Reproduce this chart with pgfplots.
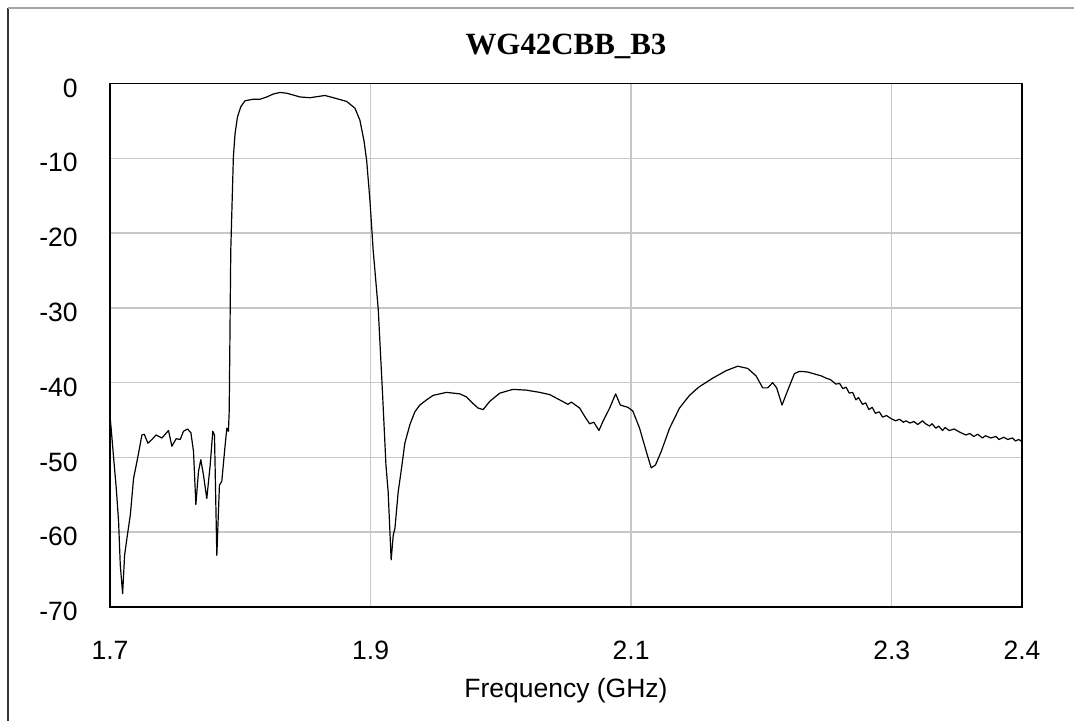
\documentclass[border=0pt]{standalone}
\usepackage{fontspec}
\setmainfont{Liberation Sans}
\newfontfamily\titlefont{Liberation Serif}
\usepackage{pgfplots}
\pgfplotsset{compat=1.18}

\pgfplotstableread{
f      db
1.7000 -44.3
1.7028 -50.1
1.7048 -54.1
1.7066 -58.6
1.7079 -64.4
1.7097 -68.2
1.7112 -63.1
1.7130 -60.8
1.7156 -57.7
1.7181 -52.8
1.7212 -50.1
1.7245 -47.0
1.7263 -46.9
1.7291 -48.1
1.7322 -47.6
1.7353 -47.0
1.7399 -47.4
1.7449 -46.4
1.7475 -48.5
1.7508 -47.5
1.7539 -47.6
1.7564 -46.5
1.7595 -46.2
1.7621 -46.7
1.7641 -49.2
1.7659 -56.3
1.7679 -51.9
1.7697 -50.3
1.7717 -52.3
1.7743 -55.5
1.7769 -51.0
1.7789 -46.5
1.7802 -47.0
1.7820 -63.1
1.7840 -53.7
1.7858 -53.2
1.7884 -48.3
1.7897 -46.1
1.7909 -46.5
1.7915 -43.8
1.7927 -22.3
1.7947 -9.8
1.7960 -6.7
1.7978 -4.5
1.8004 -3.1
1.8037 -2.3
1.8101 -2.1
1.8152 -2.1
1.8203 -1.8
1.8254 -1.4
1.8305 -1.2
1.8357 -1.3
1.8459 -1.8
1.8535 -1.9
1.8650 -1.6
1.8714 -1.9
1.8817 -2.4
1.8880 -3.3
1.8918 -4.9
1.8949 -7.6
1.8970 -10.3
1.8995 -15.6
1.9020 -22.3
1.9059 -30.2
1.9092 -41.5
1.9118 -51.0
1.9135 -54.6
1.9158 -63.7
1.9174 -60.4
1.9187 -59.5
1.9212 -54.6
1.9238 -51.4
1.9263 -48.1
1.9302 -45.6
1.9340 -43.9
1.9378 -43.0
1.9430 -42.3
1.9480 -41.7
1.9583 -41.3
1.9685 -41.5
1.9736 -41.9
1.9787 -42.8
1.9825 -43.4
1.9864 -43.6
1.9915 -42.5
1.9992 -41.4
2.0093 -40.9
2.0196 -41.0
2.0298 -41.3
2.0375 -41.6
2.0451 -42.3
2.0515 -42.9
2.0541 -42.6
2.0605 -43.4
2.0643 -44.5
2.0681 -45.5
2.0714 -45.3
2.0753 -46.4
2.0783 -45.2
2.0835 -43.4
2.0881 -41.5
2.0917 -43.0
2.0975 -43.3
2.1013 -43.8
2.1065 -46.1
2.1116 -49.2
2.1154 -51.4
2.1187 -51.0
2.1231 -49.2
2.1295 -46.1
2.1371 -43.4
2.1448 -41.7
2.1519 -40.6
2.1626 -39.4
2.1729 -38.4
2.1818 -37.8
2.1895 -38.1
2.1959 -39.1
2.2010 -40.7
2.2048 -40.7
2.2086 -40.0
2.2117 -40.7
2.2158 -43.0
2.2189 -41.6
2.2253 -38.8
2.2290 -38.5
2.2316 -38.5
2.2360 -38.6
2.2419 -38.9
2.2460 -39.1
2.2496 -39.4
2.2530 -39.6
2.2572 -40.2
2.2600 -40.1
2.2625 -40.8
2.2650 -40.6
2.2674 -41.4
2.2700 -41.3
2.2725 -42.3
2.2745 -42.0
2.2776 -42.9
2.2800 -42.7
2.2825 -43.6
2.2850 -43.3
2.2875 -44.1
2.2904 -43.9
2.2930 -44.6
2.2960 -44.4
2.2994 -44.8
2.3030 -45.1
2.3060 -44.9
2.3090 -45.3
2.3109 -45.1
2.3140 -45.4
2.3170 -45.2
2.3200 -45.6
2.3236 -45.1
2.3260 -45.5
2.3290 -45.8
2.3310 -45.5
2.3339 -46.1
2.3360 -45.8
2.3390 -46.4
2.3410 -46.0
2.3441 -46.4
2.3480 -46.2
2.3520 -46.6
2.3569 -47.0
2.3600 -46.8
2.3630 -47.2
2.3660 -46.9
2.3696 -47.4
2.3720 -47.1
2.3760 -47.4
2.3800 -47.2
2.3824 -47.6
2.3860 -47.3
2.3890 -47.6
2.3926 -47.4
2.3950 -47.8
2.3975 -47.6
2.4000 -47.9
}\sparam

\begin{document}
\begin{tikzpicture}
\useasboundingbox (-55bp,-57bp) rectangle (482bp,303.5bp);
% outer frame (only left and top edges are visible)
\draw[black!80, line width=0.75bp] (-51bp,-57bp) -- (-51bp,299.5bp);
\draw[gray!70, line width=0.9bp] (-51bp,299.5bp) -- (482bp,299.5bp);
\begin{axis}[
    at={(0,0)}, anchor=south west,
    scale only axis,
    width=456bp, height=261.75bp,
    xmin=1.7, xmax=2.4,
    ymin=-70, ymax=0,
    xtick={1.7,1.9,2.1,2.3,2.4},
    xticklabels={1.7,1.9,2.1,2.3,2.4},
    ytick={-70,-60,-50,-40,-30,-20,-10,0},
    yticklabels={-70,-60,-50,-40,-30,-20,-10,0},
    major tick length=0pt,
    grid=major,
    grid style={line width=0.75bp, color=black!22},
    axis line style={line width=0.75bp, black},
    tick label style={font=\fontsize{13.3}{16}\selectfont, inner sep=0pt},
    xticklabel style={anchor=base, yshift=-26bp},
    yticklabel style={anchor=base east, xshift=-16bp, yshift=-6.8bp},
    title={WG42CBB\_B3},
    title style={font=\titlefont\bfseries\fontsize{15.5}{18}\selectfont,
        at={(axis description cs:0.5,1)}, anchor=base, yshift=8.5bp, inner sep=0pt},
    xlabel={Frequency (GHz)},
    xlabel style={font=\fontsize{13.3}{16}\selectfont,
        at={(axis description cs:0.5,0)}, anchor=base, yshift=-45bp, inner sep=0pt},
    clip=true,
]
\addplot[black, line width=0.6bp, line join=round] table[x=f, y=db] {\sparam};
\end{axis}
\end{tikzpicture}
\end{document}
